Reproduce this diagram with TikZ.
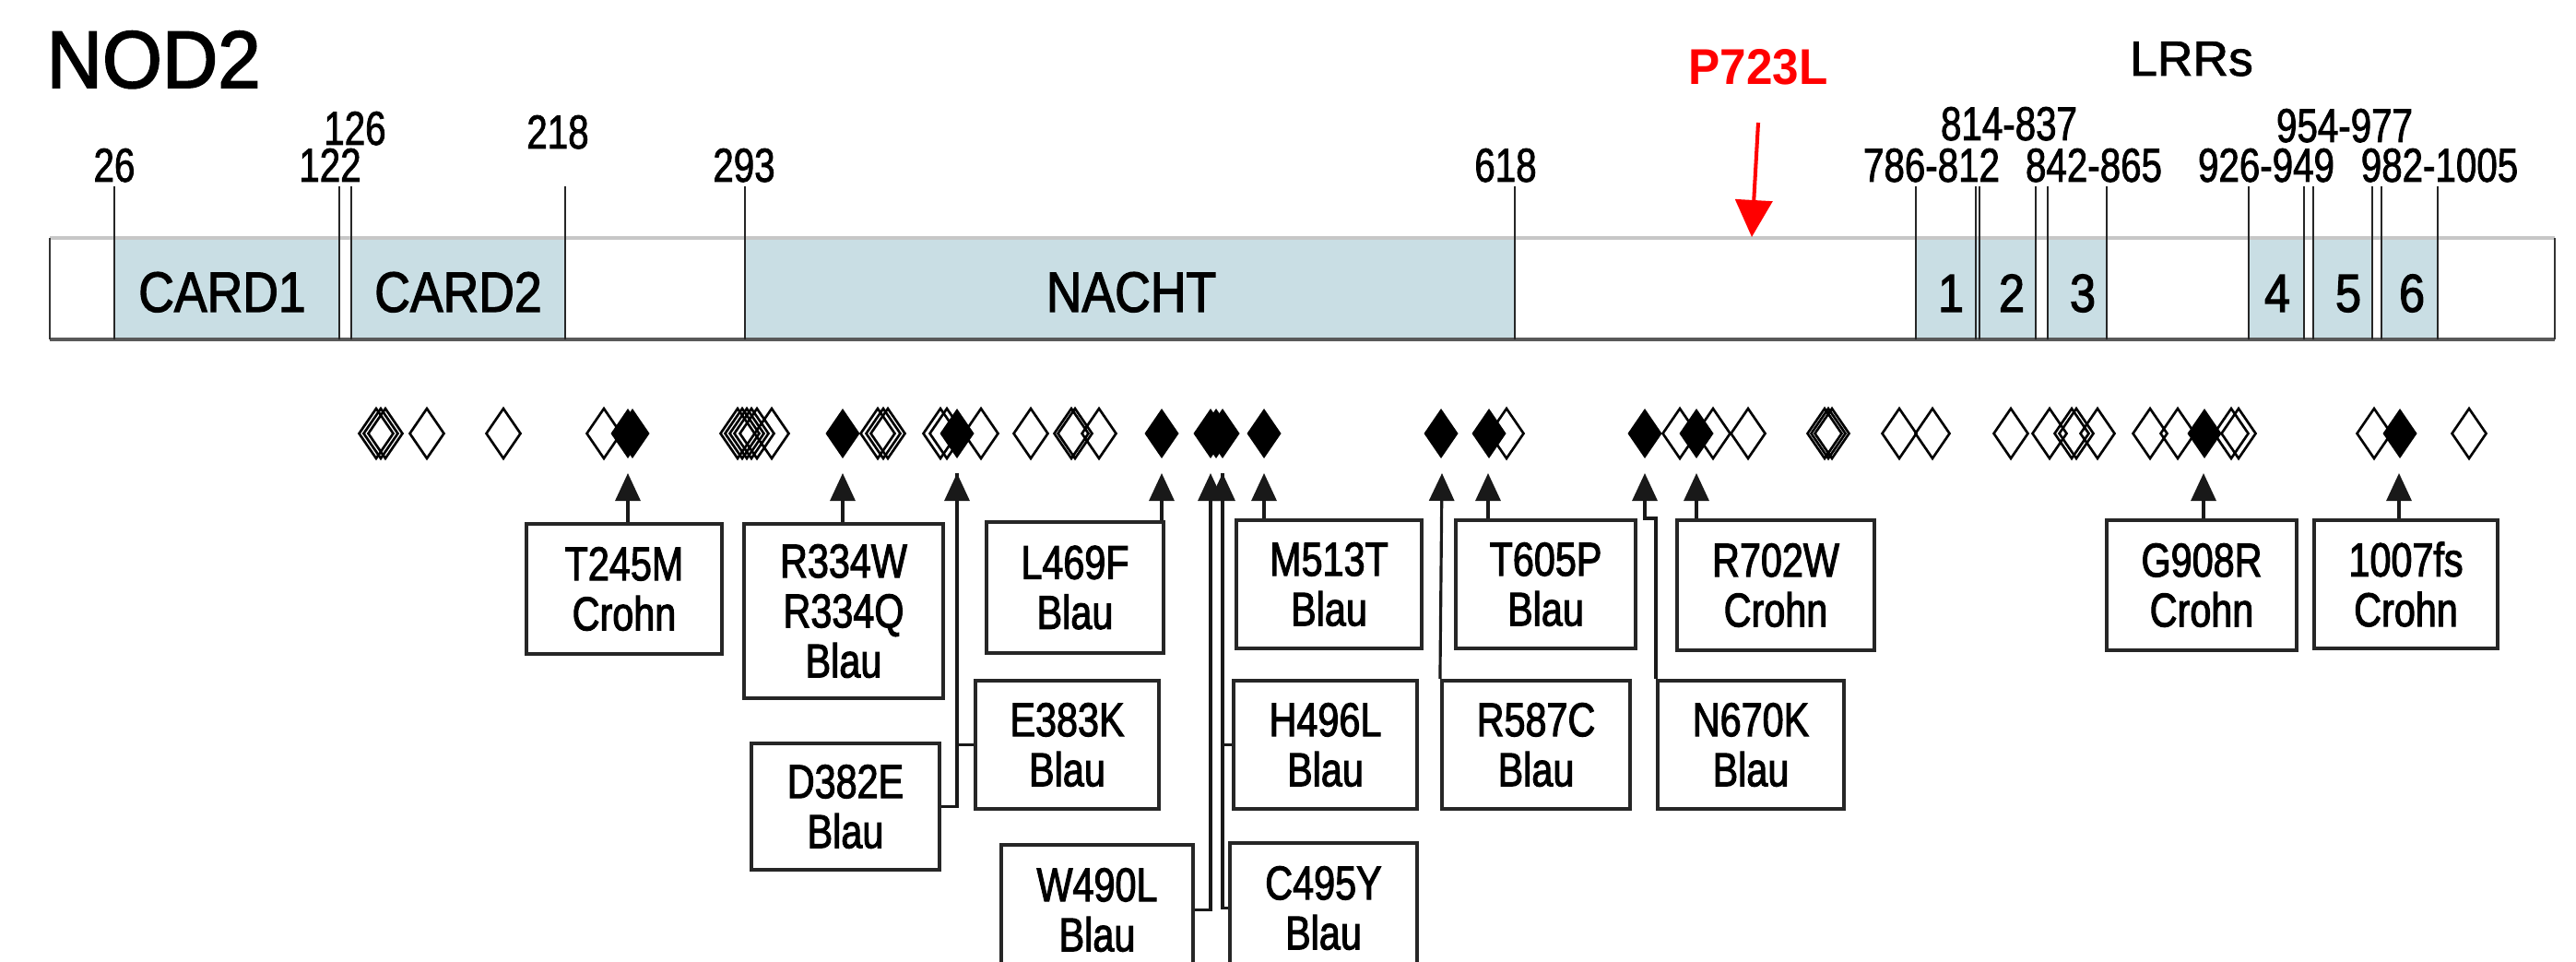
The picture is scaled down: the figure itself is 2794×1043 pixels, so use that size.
\documentclass[tikz,border=0pt]{standalone}
\usepackage{fontspec}
\setmainfont{Liberation Sans}[FakeBold=1.5]
\newfontfamily\narrowfont[FakeStretch=0.8,FakeBold=2]{Liberation Sans}
\newfontfamily\ticklabfont[FakeStretch=0.78,FakeBold=1.5]{Liberation Sans}
\newfontfamily\domfont[FakeStretch=0.87,FakeBold=2]{Liberation Sans}
\newfontfamily\titlefont[FakeStretch=0.95,FakeBold=2]{Liberation Sans}
\newfontfamily\redfont[FakeStretch=0.94]{Liberation Sans}
\usetikzlibrary{arrows.meta}
\definecolor{dombl}{RGB}{201,222,228}
\definecolor{redlab}{RGB}{255,0,0}
\begin{document}
\begin{tikzpicture}[x=0.01cm,y=-0.01cm,
  mbox/.style={draw=black!85, line width=1.15pt, fill=white, inner sep=0pt, align=center,
    font=\narrowfont\fontsize{14.7}{15.4}\selectfont},
  arr/.style={line width=0.9pt, draw=black!90, -{Triangle[length=0.3cm,width=0.27cm]}},
  conn/.style={line width=0.9pt, draw=black!90},
  tickline/.style={line width=0.65pt, draw=black!85},
  ticklab/.style={anchor=base, inner sep=0pt, font=\ticklabfont\fontsize{14.7}{14.7}\selectfont},
  domlab/.style={anchor=base, inner sep=0pt, font=\domfont\fontsize{17.5}{17.5}\selectfont},
  lrrlab/.style={anchor=base, inner sep=0pt, font=\domfont\fontsize{16.5}{16.5}\selectfont},
  opendia/.style={draw=black, line width=0.75pt},
  filldia/.style={fill=black}
]
\useasboundingbox (0,0) rectangle (2794,1043);
\clip (0,0) rectangle (2794,1043);
\fill[white] (0,0) rectangle (2794,1043);

% title
\node[anchor=base west, inner sep=0pt, font=\titlefont\fontsize{25}{25}\selectfont] (title) at (50,95) {NOD2};
\node[anchor=base, inner sep=0pt, font=\fontsize{15.2}{15.2}\selectfont] (lrrs) at (2377,82) {LRRs};
\node[anchor=base, inner sep=0pt, text=redlab, font=\redfont\bfseries\fontsize{15.5}{15.5}\selectfont] (p723) at (1907,92) {P723L};

% protein bar
\fill[white] (54,258) rectangle (2771,368);
\foreach \a/\b in {124/368, 381/613, 808/1643, 2078/2145, 2145/2208, 2221/2285, 2439/2499, 2509/2573, 2583/2644}
  \fill[dombl] (\a,258) rectangle (\b,368);
\draw[black!22, line width=1.3pt] (54,258) -- (2771,258);
\draw[black!65, line width=1.4pt] (54,368) -- (2771,368);
\draw[black!80, line width=0.6pt] (54,258) -- (54,368) (2771,258) -- (2771,368);

% boundary lines
\foreach \x in {124, 368, 381, 613, 808, 1643, 2078, 2143, 2147, 2208, 2221, 2285, 2439, 2499, 2509, 2573, 2583, 2644}
  \draw[tickline] (\x,202) -- (\x,368);

% position labels
\node[ticklab] (l26) at (124,197) {26};
\node[ticklab] (l122) at (358,197) {122};
\node[ticklab] (l126) at (385,157) {126};
\node[ticklab] (l218) at (605,161) {218};
\node[ticklab] (l293) at (807,197) {293};
\node[ticklab] (l618) at (1633,197) {618};
\node[ticklab] (l786) at (2095,197) {786-812};
\node[ticklab] (l814) at (2179,152) {814-837};
\node[ticklab] (l842) at (2271,197) {842-865};
\node[ticklab] (l926) at (2458,197) {926-949};
\node[ticklab] (l954) at (2543,154) {954-977};
\node[ticklab] (l982) at (2646,197) {982-1005};

% domain labels
\node[domlab] (card1) at (241,338) {CARD1};
\node[domlab] (card2) at (497,338) {CARD2};
\node[domlab] (nacht) at (1227,338) {NACHT};
\foreach \x/\t in {2116/1, 2182/2, 2259/3, 2470/4, 2547/5, 2616/6}
  \node[lrrlab] at (\x,338) {\t};

% red arrow
\coordinate (redtip) at (1900,257);
\draw[redlab, line width=1.15pt, -{Triangle[length=0.4cm,width=0.4cm]}] (p723.south |- 0,133) -- (redtip);

% diamonds
\foreach \x in {408, 413, 418, 463, 546, 655, 800, 805, 810, 815, 821, 837, 952, 958, 963,
  1020, 1027, 1064, 1118, 1162, 1166, 1192, 1634, 1822, 1858, 1896, 1979, 1983, 1987,
  2060, 2096, 2181, 2223, 2247, 2252, 2275, 2332, 2362, 2420, 2428, 2575, 2678}
  \draw[opendia] (\x,443) -- ++(18.5,27) -- ++(-18.5,27) -- ++(-18.5,-27) -- cycle;
\foreach \x in {681, 686, 914, 1038, 1260, 1313, 1319, 1326, 1371, 1563, 1615, 1784, 1840, 2391, 2603}
  \fill[filldia] (\x,443) -- ++(18.5,27) -- ++(-18.5,27) -- ++(-18.5,-27) -- cycle;

% arrow tips
\coordinate (a245) at (681,513);
\coordinate (a334) at (914,513);
\coordinate (a382) at (1038,513);
\coordinate (a469) at (1260,513);
\coordinate (a490) at (1313,513);
\coordinate (a495) at (1326,513);
\coordinate (a513) at (1371,513);
\coordinate (a587) at (1564,513);
\coordinate (a605) at (1614,513);
\coordinate (a670) at (1784,513);
\coordinate (a702) at (1840,513);
\coordinate (a908) at (2390,513);
\coordinate (a1007) at (2602,513);

% boxes
\node[mbox, minimum width=2.12cm, minimum height=1.41cm] (T245M) at (677,638.5) {T245M\\Crohn};
\node[mbox, minimum width=2.16cm, minimum height=1.89cm] (R334W) at (915,662.5) {R334W\\R334Q\\Blau};
\node[mbox, minimum width=2.04cm, minimum height=1.37cm] (D382E) at (917,874.5) {D382E\\Blau};
\node[mbox, minimum width=1.99cm, minimum height=1.39cm] (E383K) at (1157.5,807.5) {E383K\\Blau};
\node[mbox, minimum width=1.92cm, minimum height=1.42cm] (L469F) at (1166,637) {L469F\\Blau};
\node[mbox, minimum width=2.08cm, minimum height=1.41cm] (W490L) at (1190,986.5) {W490L\\Blau};
\node[mbox, minimum width=2.01cm, minimum height=1.39cm] (M513T) at (1441.5,633.5) {M513T\\Blau};
\node[mbox, minimum width=1.99cm, minimum height=1.39cm] (H496L) at (1437.5,807.5) {H496L\\Blau};
\node[mbox, minimum width=2.03cm, minimum height=1.41cm] (C495Y) at (1435.5,984.5) {C495Y\\Blau};
\node[mbox, minimum width=1.95cm, minimum height=1.39cm] (T605P) at (1676.5,633.5) {T605P\\Blau};
\node[mbox, minimum width=2.04cm, minimum height=1.39cm] (R587C) at (1666,807.5) {R587C\\Blau};
\node[mbox, minimum width=2.14cm, minimum height=1.41cm] (R702W) at (1926,634.5) {R702W\\Crohn};
\node[mbox, minimum width=2.02cm, minimum height=1.39cm] (N670K) at (1899,807.5) {N670K\\Blau};
\node[mbox, minimum width=2.06cm, minimum height=1.41cm] (G908R) at (2388,634.5) {G908R\\Crohn};
\node[mbox, minimum width=1.99cm, minimum height=1.39cm] (b1007) at (2609.5,633.5) {1007fs\\Crohn};

% connectors
\draw[arr] (T245M.north -| a245) -- (a245);
\draw[arr] (R334W.north -| a334) -- (a334);
\draw[arr] (D382E.east) -| (a382);
\draw[conn] (E383K.west) -| (a382);
\draw[arr] (L469F.north -| a469) -- (a469);
\draw[arr] (W490L.east) -| (a490);
\draw[arr] (C495Y.west) -| (a495);
\draw[conn] (H496L.west) -| (a495);
\draw[arr] (M513T.north -| a513) -- (a513);
\draw[arr] (R587C.north west) -- (a587);
\draw[arr] (T605P.north -| a605) -- (a605);
\draw[arr] (N670K.north west) -- (N670K.north west |- R702W.north) -| (a670);
\draw[arr] (R702W.north -| a702) -- (a702);
\draw[arr] (G908R.north -| a908) -- (a908);
\draw[arr] (b1007.north -| a1007) -- (a1007);
\end{tikzpicture}
\end{document}
